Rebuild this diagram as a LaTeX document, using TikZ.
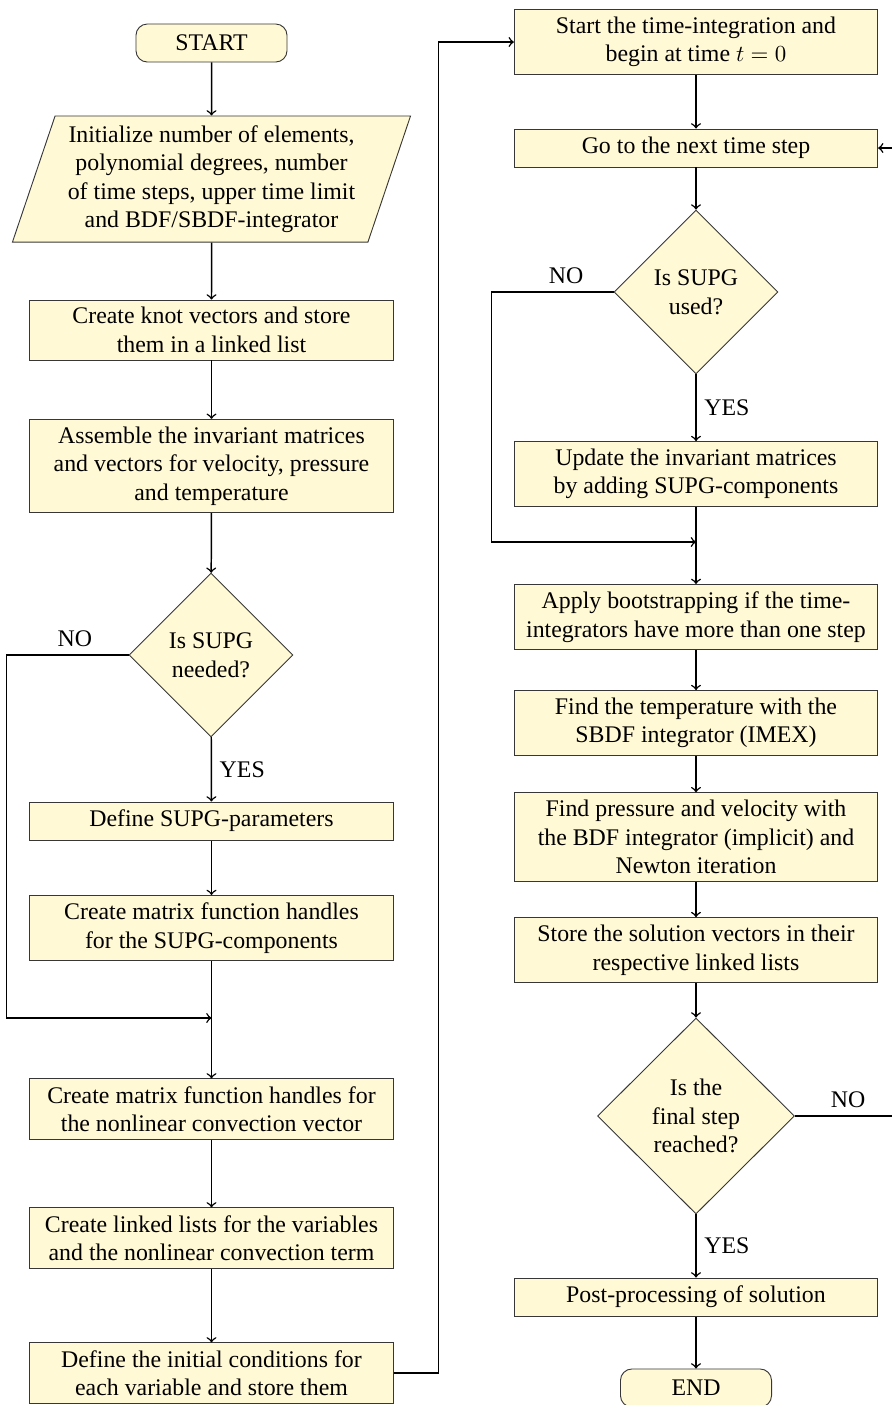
\documentclass[tikz,border=0pt]{standalone}
\usepackage{fontspec}
\setmainfont{Liberation Serif}
\definecolor{flowfill}{RGB}{255,249,213}
\definecolor{flowdraw}{RGB}{55,55,55}
\usetikzlibrary{shapes.geometric}

\begin{document}
\begin{tikzpicture}[
  x=0.4362pt, y=-0.4362pt,
  every node/.style={font=\fontsize{10.4pt}{12.45pt}\selectfont},
  procbox/.style={draw=flowdraw,fill=flowfill,minimum width=158.5pt,minimum height=16.6pt,
                  inner ysep=3.2pt,align=center},
  termbox/.style={draw=flowdraw,fill=flowfill,rounded corners=5pt,minimum width=65.9pt,
                  minimum height=16.6pt},
  iobox/.style={draw=flowdraw,fill=flowfill,trapezium,trapezium left angle=70,
                trapezium right angle=110,trapezium stretches=true,minimum width=174pt,
                minimum height=55pt,inner sep=0pt,align=center},
  decbox/.style={draw=flowdraw,fill=flowfill,diamond,inner sep=0pt,align=center},
  flowline/.style={line width=0.65pt,->},
]
  \useasboundingbox (0,0) rectangle (892,1405);

  % Left column
  \node[termbox] (start) at (211.5,43) {START};
  \node[iobox] (init) at (211.5,179)
    {Initialize number of elements,\\ polynomial degrees, number\\
     of time steps, upper time limit\\ and BDF/SBDF-integrator};
  \node[procbox] (knot) at (211.5,330) {Create knot vectors and store\\ them in a linked list};
  \node[procbox] (assemble) at (211.5,466)
    {Assemble the invariant matrices\\ and vectors for velocity, pressure\\ and temperature};
  \node[decbox,minimum width=71.5pt,minimum height=71.5pt] (needed) at (211,655) {Is SUPG\\ needed?};
  \node[procbox] (supgpar) at (211.5,821) {Define SUPG-parameters};
  \node[procbox] (supgcomp) at (211.5,928) {Create matrix function handles\\ for the SUPG-components};
  \coordinate (mergeA) at (211.5,1018);
  \node[procbox] (nonlin) at (211.5,1109)
    {Create matrix function handles for\\ the nonlinear convection vector};
  \node[procbox] (lists) at (211.5,1238)
    {Create linked lists for the variables\\ and the nonlinear convection term};
  \node[procbox] (initcond) at (211.5,1373)
    {Define the initial conditions for\\ each variable and store them};

  % Right column
  \node[procbox] (tstart) at (696,42) {Start the time-integration and\\ begin at time $t=0$};
  \node[procbox] (next) at (696,148) {Go to the next time step};
  \node[decbox,minimum width=71.5pt,minimum height=71.5pt] (used) at (696,292) {Is SUPG\\ used?};
  \node[procbox] (update) at (696,474)
    {Update the invariant matrices\\ by adding SUPG-components};
  \coordinate (mergeB) at (696,542);
  \node[procbox] (boot) at (696,617)
    {Apply bootstrapping if the time-\\ integrators have more than one step};
  \node[procbox] (temp) at (696,723) {Find the temperature with the\\ SBDF integrator (IMEX)};
  \node[procbox] (press) at (696,837)
    {Find pressure and velocity with\\ the BDF integrator (implicit) and\\ Newton iteration};
  \node[procbox] (store) at (696,950)
    {Store the solution vectors in their\\ respective linked lists};
  \node[decbox,minimum width=85.9pt,minimum height=85.5pt] (final) at (696,1116)
    {Is the\\ final step\\ reached?};
  \node[procbox] (post) at (696,1297) {Post-processing of solution};
  \node[termbox] (finish) at (696,1388) {END};

  % Connectors, left column
  \draw[flowline] (start) -- (init);
  \draw[flowline] (init) -- (knot);
  \draw[flowline] (knot) -- (assemble);
  \draw[flowline] (assemble) -- (needed);
  \draw[flowline] (needed) -- node[right]{YES} (supgpar);
  \draw[flowline] (needed.west) -- node[above,pos=0.44]{NO} ++(-122,0) |- (mergeA);
  \draw[flowline] (supgpar) -- (supgcomp);
  \draw[line width=0.65pt] (supgcomp) -- (mergeA);
  \draw[flowline] (mergeA) -- (nonlin);
  \draw[flowline] (nonlin) -- (lists);
  \draw[flowline] (lists) -- (initcond);
  \draw[flowline] (initcond.east) -- ++(45,0) |- (tstart.west);

  % Connectors, right column
  \draw[flowline] (tstart) -- (next);
  \draw[flowline] (next) -- (used);
  \draw[flowline] (used) -- node[right]{YES} (update);
  \draw[flowline] (used.west) -- node[above,pos=0.39]{NO} ++(-122,0) |- (mergeB);
  \draw[line width=0.65pt] (update) -- (mergeB);
  \draw[flowline] (mergeB) -- (boot);
  \draw[flowline] (boot) -- (temp);
  \draw[flowline] (temp) -- (press);
  \draw[flowline] (press) -- (store);
  \draw[flowline] (store) -- (final);
  \draw[flowline] (final) -- node[right]{YES} (post);
  \draw[flowline] (final.east) -- node[above,pos=0.48]{NO} ++(111,0) |- (next.east);
  \draw[flowline] (post) -- (finish);
\end{tikzpicture}
\end{document}
